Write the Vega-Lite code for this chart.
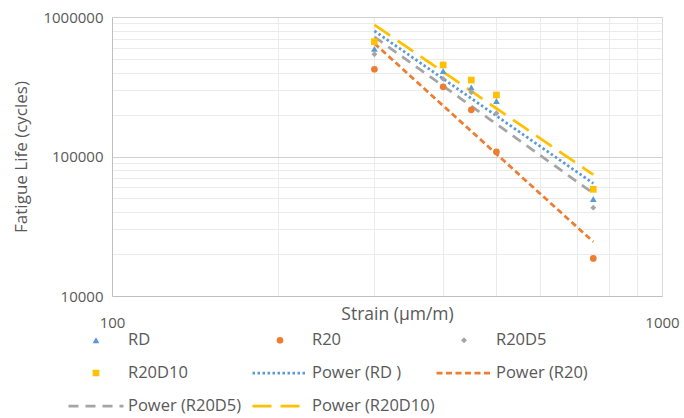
{
  "$schema": "https://vega.github.io/schema/vega-lite/v6.json",
  "width": 550,
  "height": 279,
  "autosize": {"type": "none"},
  "padding": {"left": 112, "top": 17, "right": 22, "bottom": 122},
  "background": "white",
  "config": {
    "view": {"stroke": null},
    "font": "Open Sans",
    "legend": {
      "orient": "none",
      "legendX": -45,
      "legendY": 315,
      "direction": "horizontal",
      "columns": 3,
      "gridAlign": "all",
      "columnPadding": 0,
      "rowPadding": 16,
      "clipHeight": 16,
      "labelFont": "Open Sans",
      "labelFontSize": 16.5,
      "labelColor": "#595959",
      "labelOffset": 3,
      "labelLimit": 200,
      "symbolOpacity": 1
    }
  },
  "data": {
    "values": [
      {"series": "RD", "trend": "Power (RD )", "strain": 300, "life": 590000},
      {"series": "RD", "trend": "Power (RD )", "strain": 400, "life": 410000},
      {"series": "RD", "trend": "Power (RD )", "strain": 450, "life": 313000},
      {"series": "RD", "trend": "Power (RD )", "strain": 500, "life": 250000},
      {"series": "RD", "trend": "Power (RD )", "strain": 750, "life": 49600},
      {"series": "R20", "trend": "Power (R20)", "strain": 300, "life": 422000},
      {"series": "R20", "trend": "Power (R20)", "strain": 400, "life": 316000},
      {"series": "R20", "trend": "Power (R20)", "strain": 450, "life": 216000},
      {"series": "R20", "trend": "Power (R20)", "strain": 500, "life": 108000},
      {"series": "R20", "trend": "Power (R20)", "strain": 750, "life": 18600},
      {"series": "R20D5", "trend": "Power (R20D5)", "strain": 300, "life": 541000},
      {"series": "R20D5", "trend": "Power (R20D5)", "strain": 400, "life": 360000},
      {"series": "R20D5", "trend": "Power (R20D5)", "strain": 450, "life": 289000},
      {"series": "R20D5", "trend": "Power (R20D5)", "strain": 500, "life": 204000},
      {"series": "R20D5", "trend": "Power (R20D5)", "strain": 750, "life": 43000},
      {"series": "R20D10", "trend": "Power (R20D10)", "strain": 300, "life": 665000},
      {"series": "R20D10", "trend": "Power (R20D10)", "strain": 400, "life": 453000},
      {"series": "R20D10", "trend": "Power (R20D10)", "strain": 450, "life": 353000},
      {"series": "R20D10", "trend": "Power (R20D10)", "strain": 500, "life": 276000},
      {"series": "R20D10", "trend": "Power (R20D10)", "strain": 750, "life": 58200}
    ]
  },
  "layer": [
    {
      "transform": [
        {"regression": "life", "on": "strain", "method": "pow", "groupby": ["trend"]}
      ],
      "mark": {"type": "line", "clip": true},
      "encoding": {
        "x": {
          "field": "strain",
          "type": "quantitative",
          "scale": {"type": "log", "domain": [100, 1000], "nice": false},
          "axis": {
            "values": [100, 200, 300, 400, 500, 600, 700, 800, 900, 1000],
            "labelExpr": "datum.value == 100 || datum.value == 1000 ? format(datum.value, 'd') : ''",
            "title": "Strain (μm/m)",
            "ticks": false,
            "tickSize": 0,
            "grid": true,
            "gridColor": {"condition": {"test": "datum.value == 1000", "value": "#d9d9d9"}, "value": "#ebebeb"},
            "gridWidth": 1,
            "domainColor": "#bfbfbf",
            "domainWidth": 1,
            "labelFlush": false,
            "labelOverlap": false,
            "labelPadding": 26,
            "labelBaseline": "middle",
            "labelFont": "Open Sans",
            "labelFontSize": 15,
            "labelColor": "#595959",
            "titleFont": "Open Sans",
            "titleFontSize": 17.5,
            "titleFontWeight": "normal",
            "titleColor": "#595959",
            "titleX": 285,
            "titleY": 18,
            "titleBaseline": "middle"
          }
        },
        "y": {
          "field": "life",
          "type": "quantitative",
          "scale": {"type": "log", "domain": [10000, 1000000], "nice": false},
          "axis": {
            "values": [10000, 20000, 30000, 40000, 50000, 60000, 70000, 80000, 90000, 100000, 200000, 300000, 400000, 500000, 600000, 700000, 800000, 900000, 1000000],
            "labelExpr": "datum.value == 10000 || datum.value == 100000 || datum.value == 1000000 ? format(datum.value, 'd') : ''",
            "title": "Fatigue Life (cycles)",
            "ticks": false,
            "tickSize": 0,
            "grid": true,
            "gridColor": {"condition": {"test": "datum.value == 100000 || datum.value == 1000000", "value": "#d0d0d0"}, "value": "#ebebeb"},
            "gridWidth": 1,
            "domainColor": "#bfbfbf",
            "domainWidth": 1,
            "labelFlush": false,
            "labelOverlap": false,
            "labelPadding": 9,
            "labelFont": "Open Sans",
            "labelFontSize": 15,
            "labelColor": "#595959",
            "titleFont": "Open Sans",
            "titleFontSize": 17,
            "titleFontWeight": "normal",
            "titleColor": "#595959",
            "titleX": -91,
            "titleY": 139.5,
            "titleAlign": "center",
            "titleBaseline": "middle",
            "titleAngle": 270
          }
        },
        "color": {
          "field": "trend",
          "type": "nominal",
          "scale": {
            "domain": ["RD", "R20", "R20D5", "R20D10", "Power (RD )", "Power (R20)", "Power (R20D5)", "Power (R20D10)"],
            "range": ["#5B9BD5", "#ED7D31", "#A5A5A5", "#FFC000", "#5B9BD5", "#ED7D31", "#A5A5A5", "#FFC000"]
          },
          "legend": {"title": null}
        },
        "strokeDash": {
          "field": "trend",
          "type": "nominal",
          "scale": {
            "domain": ["RD", "R20", "R20D5", "R20D10", "Power (RD )", "Power (R20)", "Power (R20D5)", "Power (R20D10)"],
            "range": [[1, 0], [1, 0], [1, 0], [1, 0], [2.5, 2.5], [6, 3.5], [10, 7], [19, 9]]
          },
          "legend": {"title": null}
        },
        "strokeWidth": {
          "field": "trend",
          "type": "nominal",
          "scale": {
            "type": "ordinal",
            "domain": ["RD", "R20", "R20D5", "R20D10", "Power (RD )", "Power (R20)", "Power (R20D5)", "Power (R20D10)"],
            "range": [0, 0, 0, 0, 2.75, 2.75, 2.75, 2.75]
          },
          "legend": {"title": null}
        }
      }
    },
    {
      "mark": {"type": "point", "filled": true, "opacity": 1},
      "encoding": {
        "x": {"field": "strain", "type": "quantitative"},
        "y": {"field": "life", "type": "quantitative"},
        "color": {
          "field": "series",
          "type": "nominal",
          "scale": {
            "domain": ["RD", "R20", "R20D5", "R20D10", "Power (RD )", "Power (R20)", "Power (R20D5)", "Power (R20D10)"],
            "range": ["#5B9BD5", "#ED7D31", "#A5A5A5", "#FFC000", "#5B9BD5", "#ED7D31", "#A5A5A5", "#FFC000"]
          },
          "legend": {"title": null}
        },
        "shape": {
          "field": "series",
          "type": "nominal",
          "scale": {
            "domain": ["RD", "R20", "R20D5", "R20D10", "Power (RD )", "Power (R20)", "Power (R20D5)", "Power (R20D10)"],
            "range": ["triangle-up", "circle", "diamond", "square", "stroke", "stroke", "stroke", "stroke"]
          },
          "legend": {"title": null}
        },
        "size": {
          "field": "series",
          "type": "nominal",
          "scale": {
            "type": "ordinal",
            "domain": ["RD", "R20", "R20D5", "R20D10", "Power (RD )", "Power (R20)", "Power (R20D5)", "Power (R20D10)"],
            "range": [45, 45, 35, 45, 3025, 3025, 3025, 3025]
          },
          "legend": {"title": null}
        }
      }
    }
  ]
}
